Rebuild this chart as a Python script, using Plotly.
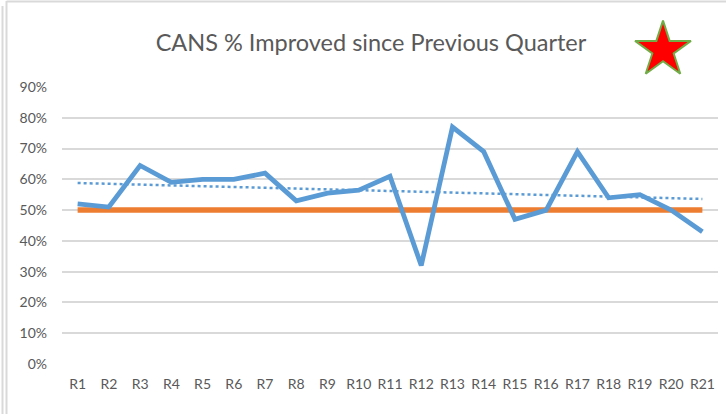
import numpy as np
import plotly.graph_objects as go

W, H = 726, 414

categories = [f"R{i}" for i in range(1, 22)]
improved = [0.52, 0.51, 0.645, 0.59, 0.60, 0.60, 0.62, 0.53, 0.555, 0.565, 0.61,
            0.32, 0.77, 0.69, 0.47, 0.50, 0.69, 0.54, 0.55, 0.50, 0.43]
target = [0.50] * len(categories)
y_ticks = [0.0, 0.1, 0.2, 0.3, 0.4, 0.5, 0.6, 0.7, 0.8, 0.9]
y_tick_labels = [f"{int(round(v*100))}%" for v in y_ticks]
title_text = "CANS % Improved since Previous Quarter"

# linear trendline (least squares, like the spreadsheet trendline)
xi = np.arange(len(improved))
slope, intercept = np.polyfit(xi, improved, 1)
trend = list(intercept + slope * xi)

FONT = "Lato, sans-serif"
GRAY = "#595959"
GRID = "#d9d9d9"

# plot area in pixels
PL, PR, PT, PB = 62, 718, 87, 364

fig = go.Figure()
fig.add_trace(go.Scatter(x=categories, y=target, mode="lines",
                         line=dict(color="#ED7D31", width=5.5), name="Target",
                         hoverinfo="skip"))
fig.add_trace(go.Scatter(x=categories, y=trend, mode="lines",
                         line=dict(color="#5B9BD5", width=2.5, dash="dot"),
                         name="Trend"))
fig.add_trace(go.Scatter(x=categories, y=improved, mode="lines",
                         line=dict(color="#5B9BD5", width=4.8), name="% Improved"))

# star decoration on a pixel-coordinate axis pair spanning the whole figure
fig.add_trace(go.Scatter(x=[663], y=[50], mode="markers", xaxis="x2", yaxis="y2",
                         marker=dict(symbol="star", size=42, color="#FF0000",
                                     line=dict(color="#70AD47", width=2)),
                         hoverinfo="skip", cliponaxis=False))

fig.update_layout(
    width=W, height=H,
    margin=dict(l=0, r=0, t=0, b=0),
    paper_bgcolor="white", plot_bgcolor="rgba(0,0,0,0)",
    showlegend=False,
    font=dict(family=FONT, color=GRAY, size=14),
    title=dict(text=title_text, x=371 / W, xanchor="center", y=1 - 43 / H, yanchor="middle",
               font=dict(family=FONT, size=23.5, color=GRAY)),
    xaxis=dict(domain=[PL / W, PR / W], range=[-0.5, len(categories) - 0.5],
               type="category", showgrid=False, showline=False, zeroline=False,
               ticks="", ticklabelstandoff=10, automargin=False,
               tickfont=dict(family=FONT, size=14, color=GRAY)),
    yaxis=dict(domain=[1 - PB / H, 1 - PT / H], range=[0, 0.9],
               tickvals=y_ticks, ticktext=y_tick_labels,
               showgrid=True, gridcolor=GRID, gridwidth=1.5,
               zeroline=False, showline=False, ticks="", ticklabelstandoff=14,
               automargin=False,
               tickfont=dict(family=FONT, size=14, color=GRAY)),
    xaxis2=dict(domain=[0, 1], range=[0, W], anchor="y2", visible=False, fixedrange=True),
    yaxis2=dict(domain=[0, 1], range=[H, 0], anchor="x2", visible=False, fixedrange=True),
    shapes=[
        dict(type="line", xref="paper", yref="paper", x0=2.5 / W, x1=2.5 / W,
             y0=1 - 6 / H, y1=0, line=dict(color=GRID, width=2)),
        dict(type="line", xref="paper", yref="paper", x0=6.5 / W, x1=6.5 / W,
             y0=1 - 1 / H, y1=0, line=dict(color=GRID, width=2)),
        dict(type="line", xref="paper", yref="paper", x0=6.5 / W, x1=1,
             y0=1 - 1.5 / H, y1=1 - 1.5 / H, line=dict(color=GRID, width=2)),
    ],
)

fig.write_html("out.html", config={"displayModeBar": False},
               post_script="document.body.style.margin='0';")
